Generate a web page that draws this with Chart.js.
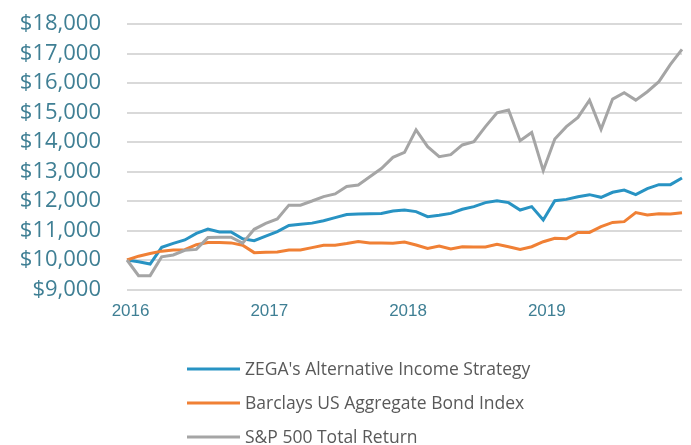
<!DOCTYPE html>
<html>
<head>
<meta charset="utf-8">
<script src="https://cdn.jsdelivr.net/npm/chart.js@4.4.1/dist/chart.umd.min.js"></script>
<style>
  html, body { margin: 0; padding: 0; background: #fff; }
  #wrap { width: 691px; height: 445px; }
</style>
</head>
<body>
<div id="wrap"><canvas id="growthChart" width="691" height="445"></canvas></div>
<script>
const months = [
  'Dec 2015',
  'Jan 2016', 'Feb 2016', 'Mar 2016', 'Apr 2016', 'May 2016', 'Jun 2016',
  'Jul 2016', 'Aug 2016', 'Sep 2016', 'Oct 2016', 'Nov 2016', 'Dec 2016',
  'Jan 2017', 'Feb 2017', 'Mar 2017', 'Apr 2017', 'May 2017', 'Jun 2017',
  'Jul 2017', 'Aug 2017', 'Sep 2017', 'Oct 2017', 'Nov 2017', 'Dec 2017',
  'Jan 2018', 'Feb 2018', 'Mar 2018', 'Apr 2018', 'May 2018', 'Jun 2018',
  'Jul 2018', 'Aug 2018', 'Sep 2018', 'Oct 2018', 'Nov 2018', 'Dec 2018',
  'Jan 2019', 'Feb 2019', 'Mar 2019', 'Apr 2019', 'May 2019', 'Jun 2019',
  'Jul 2019', 'Aug 2019', 'Sep 2019', 'Oct 2019', 'Nov 2019', 'Dec 2019'
];

const zegaValues = [
  10000, 9940, 9865, 10430, 10565, 10680, 10900, 11050, 10950, 10950, 10720, 10655, 10810,
  10960, 11170, 11210, 11250, 11330, 11435, 11540, 11560, 11570, 11580, 11660, 11695,
  11640, 11470, 11515, 11580, 11720, 11810, 11945, 12010, 11945, 11695, 11810, 11355,
  12010, 12055, 12145, 12215, 12125, 12295, 12370, 12215, 12420, 12555, 12555, 12780
];

const barclaysValues = [
  10000, 10130, 10220, 10300, 10340, 10350, 10520, 10590, 10590, 10580, 10500, 10250, 10260,
  10270, 10340, 10340, 10420, 10500, 10500, 10560, 10630, 10580, 10580, 10570, 10610,
  10510, 10395, 10475, 10375, 10450, 10440, 10440, 10530, 10450, 10360, 10450, 10620,
  10735, 10720, 10935, 10935, 11130, 11275, 11300, 11605, 11525, 11570, 11560, 11605
];

const sp500Values = [
  10000, 9470, 9470, 10110, 10170, 10330, 10360, 10760, 10770, 10770, 10570, 11040, 11240,
  11390, 11860, 11860, 12000, 12150, 12240, 12490, 12540, 12820, 13100, 13480, 13650,
  14410, 13840, 13500, 13570, 13900, 14010, 14520, 14990, 15085, 14045, 14325, 13030,
  14100, 14520, 14835, 15420, 14430, 15455, 15670, 15420, 15705, 16045, 16630, 17140
];

const seriesNames = [
  "ZEGA's Alternative Income Strategy",
  'Barclays US Aggregate Bond Index',
  'S&P 500 Total Return'
];

const tickColor = '#3f7f94';

// legend drawn as a vertical list under the plot
const listLegend = {
  id: 'listLegend',
  afterDraw(chart) {
    const ctx = chart.ctx;
    const left = 187;
    const top = 369;
    const rowGap = 34;
    ctx.save();
    ctx.font = '17.5px "Open Sans"';
    ctx.textBaseline = 'middle';
    ctx.textAlign = 'left';
    chart.data.datasets.forEach((ds, i) => {
      const y = top + i * rowGap;
      ctx.strokeStyle = ds.borderColor;
      ctx.lineWidth = 3;
      ctx.beginPath();
      ctx.moveTo(left, y);
      ctx.lineTo(left + 53, y);
      ctx.stroke();
      ctx.fillStyle = '#595959';
      ctx.fillText(ds.label, left + 58, y + 1);
    });
    ctx.restore();
  }
};

const ctx = document.getElementById('growthChart').getContext('2d');

new Chart(ctx, {
  type: 'line',
  data: {
    labels: months,
    datasets: [
      {
        label: seriesNames[0],
        data: zegaValues,
        borderColor: '#2893c3',
        borderWidth: 3,
        pointRadius: 0,
        tension: 0,
        order: 2
      },
      {
        label: seriesNames[1],
        data: barclaysValues,
        borderColor: '#f08035',
        borderWidth: 3,
        pointRadius: 0,
        tension: 0,
        order: 1
      },
      {
        label: seriesNames[2],
        data: sp500Values,
        borderColor: '#a5a5a5',
        borderWidth: 3,
        pointRadius: 0,
        tension: 0,
        order: 0
      }
    ]
  },
  options: {
    responsive: false,
    animation: false,
    layout: {
      padding: { top: 24, right: 9, bottom: 117.5, left: 0 }
    },
    plugins: {
      legend: { display: false },
      tooltip: { enabled: false }
    },
    scales: {
      x: {
        grid: { display: false },
        border: { display: false },
        afterFit: (scale) => { scale.height = 38; },
        ticks: {
          autoSkip: false,
          maxRotation: 0,
          padding: 4,
          labelOffset: -8,
          color: tickColor,
          font: { family: '"Liberation Sans", Arial, sans-serif', size: 17 },
          callback: function(value, index) {
            const m = months[index];
            return m.startsWith('Jan') ? m.slice(4) : null;
          }
        }
      },
      y: {
        min: 9000,
        max: 18000,
        afterFit: (scale) => { scale.width = 127; },
        border: { display: false },
        grid: {
          color: '#d9d9d9',
          lineWidth: 2,
          drawTicks: true,
          tickLength: 26,
          tickColor: 'rgba(0,0,0,0)'
        },
        ticks: {
          stepSize: 1000,
          autoSkip: false,
          padding: 0,
          color: tickColor,
          font: { family: '"Open Sans", sans-serif', size: 22 },
          callback: (value) => '$' + value.toLocaleString('en-US')
        }
      }
    }
  },
  plugins: [listLegend]
});
</script>
</body>
</html>
